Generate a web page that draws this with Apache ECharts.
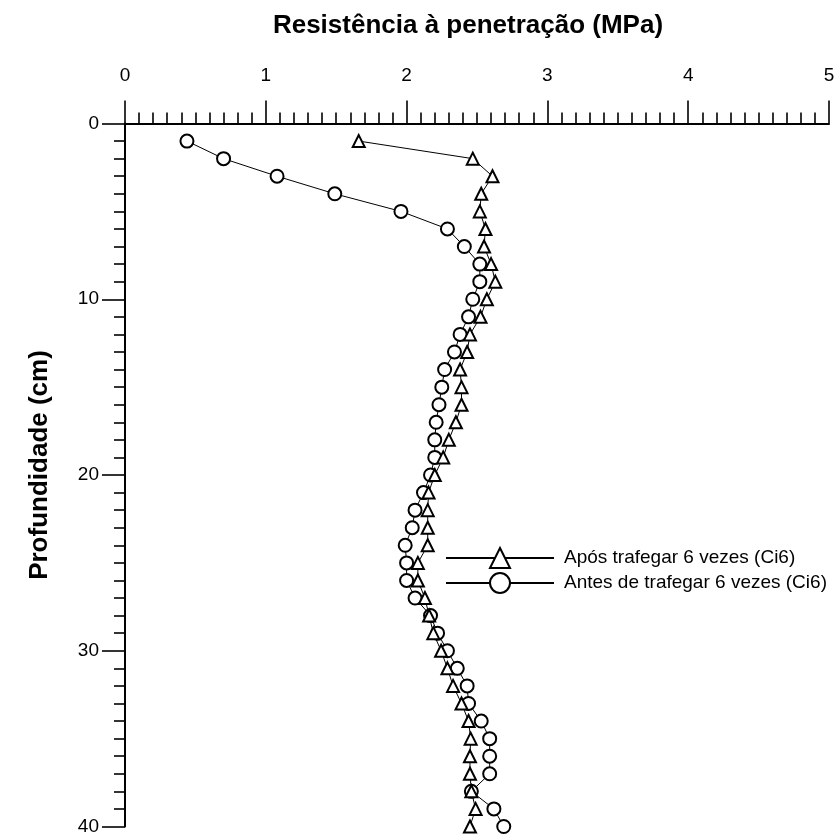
<!DOCTYPE html>
<html>
<head>
<meta charset="utf-8">
<script src="https://cdn.jsdelivr.net/npm/echarts@6/dist/echarts.min.js"></script>
<style>
  html, body { margin: 0; padding: 0; background: #fff; }
  #chart { width: 838px; height: 836px; }
</style>
</head>
<body>
<div id="chart"></div>
<script>
// Profundidade (cm) de cada leitura
const depths = [1,2,3,4,5,6,7,8,9,10,11,12,13,14,15,16,17,18,19,20,
                21,22,23,24,25,26,27,28,29,30,31,32,33,34,35,36,37,38,39,40];

// Resistência à penetração (MPa) após trafegar 6 vezes
const aposValues = [1.66, 2.47, 2.61, 2.53, 2.52, 2.56, 2.55, 2.60, 2.63, 2.57,
                    2.525, 2.45, 2.43, 2.38, 2.39, 2.39, 2.35, 2.30, 2.26, 2.20,
                    2.156, 2.15, 2.15, 2.15, 2.08, 2.08, 2.13, 2.16, 2.19, 2.245,
                    2.29, 2.33, 2.39, 2.44, 2.455, 2.45, 2.45, 2.46, 2.49, 2.45];

// Resistência à penetração (MPa) antes de trafegar 6 vezes
const antesValues = [0.44, 0.70, 1.08, 1.49, 1.96, 2.29, 2.41, 2.52, 2.52, 2.47,
                     2.44, 2.38, 2.34, 2.27, 2.25, 2.23, 2.21, 2.20, 2.20, 2.17,
                     2.12, 2.06, 2.04, 1.99, 2.00, 2.00, 2.06, 2.17, 2.22, 2.29,
                     2.36, 2.43, 2.44, 2.53, 2.59, 2.59, 2.59, 2.46, 2.62, 2.69];

const seriesNames = ['Após trafegar 6 vezes (Ci6)', 'Antes de trafegar 6 vezes (Ci6)'];
const xTitle = 'Resistência à penetração (MPa)';
const yTitle = 'Profundidade (cm)';

const FONT = '"Liberation Sans", Arial, Helvetica, sans-serif';

const toPairs = vals => vals.map((v, i) => [v, depths[i]]);

const chart = echarts.init(document.getElementById('chart'), null, { renderer: 'canvas' });

const axisCommon = {
  type: 'value',
  axisLine: { show: true, onZero: false, lineStyle: { color: '#000', width: 2 } },
  axisTick: { show: true, inside: false, length: 23, lineStyle: { color: '#000', width: 1.6 } },
  minorTick: { show: true, splitNumber: 10, length: 11, lineStyle: { color: '#000', width: 1.6 } },
  splitLine: { show: false },
  minorSplitLine: { show: false },
  axisLabel: { color: '#000', fontFamily: FONT, fontSize: 19 }
};

chart.setOption({
  animation: false,
  backgroundColor: '#fff',
  title: {
    text: xTitle,
    left: 463,
    top: 8,
    textAlign: 'center',
    textStyle: { fontFamily: FONT, fontSize: 26, fontWeight: 'bold', color: '#000' }
  },
  grid: { left: 125, top: 123.5, right: 9, bottom: 8.5, containLabel: false },
  xAxis: Object.assign({}, axisCommon, {
    position: 'top',
    min: 0, max: 5, interval: 1,
    axisLabel: Object.assign({}, axisCommon.axisLabel, { margin: 38 })
  }),
  yAxis: Object.assign({}, axisCommon, {
    inverse: true,
    min: 0, max: 40, interval: 10,
    axisLabel: Object.assign({}, axisCommon.axisLabel, { margin: 26 })
  }),
  legend: {
    orient: 'vertical',
    left: 440,
    top: 542,
    itemWidth: 108,
    itemHeight: 25,
    itemGap: 3,
    textStyle: { fontFamily: FONT, fontSize: 19, color: '#000', padding: [0, 0, 0, 5] },
    data: seriesNames
  },
  graphic: [{
    type: 'text',
    x: 40,
    y: 465,
    rotation: Math.PI / 2,
    style: {
      text: yTitle,
      fontFamily: FONT,
      fontSize: 26,
      fontWeight: 'bold',
      fill: '#000',
      align: 'center',
      verticalAlign: 'middle'
    }
  }],
  series: [
    {
      name: seriesNames[0],
      type: 'line',
      data: toPairs(aposValues),
      symbol: 'emptyTriangle',
      symbolSize: 12,
      lineStyle: { color: '#000', width: 1 },
      itemStyle: { color: '#000', borderColor: '#000', borderWidth: 1.5 },
      z: 3
    },
    {
      name: seriesNames[1],
      type: 'line',
      data: toPairs(antesValues),
      symbol: 'emptyCircle',
      symbolSize: 13,
      lineStyle: { color: '#000', width: 1 },
      itemStyle: { color: '#000', borderColor: '#000', borderWidth: 1.5 },
      z: 2
    }
  ]
});
</script>
</body>
</html>
